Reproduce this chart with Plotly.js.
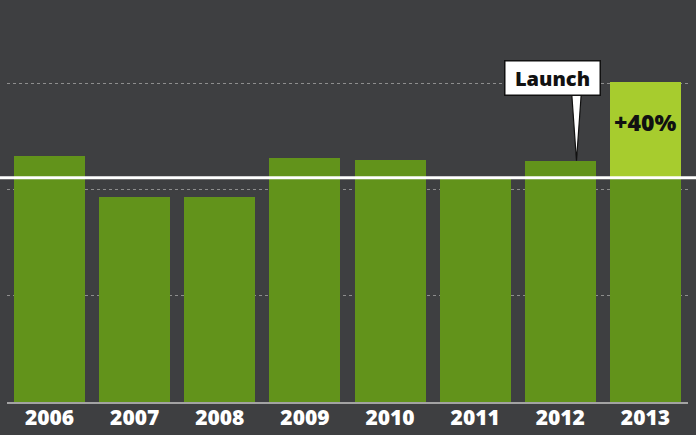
<!DOCTYPE html>
<html>
<head>
<meta charset="utf-8">
<script src="https://cdn.plot.ly/plotly-3.0.1.min.js"></script>
<style>
  html, body { margin: 0; padding: 0; background: #3e3f41; }
  #chart { width: 696px; height: 435px; }
</style>
</head>
<body>
<div id="chart"></div>
<script>
// Data
const years = ['2006', '2007', '2008', '2009', '2010', '2011', '2012', '2013'];
const values = [2.31, 1.93, 1.93, 2.30, 2.28, 2.11, 2.27, 3.01];
const referenceYear = '2011';   // white reference line level
const launchYear = '2012';
const highlightYear = '2013';
const launchLabel = 'Launch';
const growthLabel = '+40%';

const refLevel = values[years.indexOf(referenceYear)];
const hiIdx = years.indexOf(highlightYear);
const launchIdx = years.indexOf(launchYear);

const darkPart = values.map((v, i) => i === hiIdx ? Math.min(v, refLevel) : v);
const lightPart = values.map((v, i) => i === hiIdx ? Math.max(v - refLevel, 0) : 0);

const FONT = '"Open Sans", "DejaVu Sans", sans-serif';

const traces = [
  { type: 'bar', x: years, y: darkPart, marker: { color: '#62931b', line: { width: 0 } }, hoverinfo: 'skip' },
  { type: 'bar', x: years, y: lightPart, marker: { color: '#a7cc2e', line: { width: 0 } }, hoverinfo: 'skip' }
];

const boxTop = 3.045;     // y of callout box centre
const boxBottom = 2.89;
const tailX = launchIdx + 0.19;

const layout = {
  width: 696, height: 435,
  paper_bgcolor: '#3e3f41', plot_bgcolor: '#3e3f41',
  margin: { l: 7, r: 8, t: 20, b: 33 },
  barmode: 'stack', bargap: 0.166,
  showlegend: false,
  xaxis: {
    type: 'category', showgrid: false, zeroline: false,
    showline: true, linecolor: '#a3a3a3', linewidth: 2,
    ticks: '', ticklabelstandoff: -4,
    tickfont: { family: FONT, size: 21, color: '#ffffff', weight: 800 },
    fixedrange: true
  },
  yaxis: {
    range: [0, 3.594], dtick: 1, showticklabels: false, zeroline: false,
    showgrid: true, gridcolor: '#8e8e8e', griddash: 'dot', gridwidth: 1,
    fixedrange: true
  },
  shapes: [
    { type: 'line', xref: 'paper', yref: 'y', x0: -0.02, x1: 1.02, y0: refLevel, y1: refLevel,
      line: { color: '#ffffff', width: 3 }, layer: 'above' },
    { type: 'path', xref: 'x', yref: 'y',
      path: `M ${tailX - 0.055},${boxBottom} L ${tailX + 0.055},${boxBottom} L ${tailX},${values[launchIdx]} Z`,
      fillcolor: '#ffffff', line: { color: '#111111', width: 1.2 }, layer: 'above' }
  ],
  annotations: [
    { xref: 'x', yref: 'y', x: launchIdx - 0.09, y: boxTop, text: launchLabel, showarrow: false,
      bgcolor: '#ffffff', bordercolor: '#111111', borderwidth: 1.5, borderpad: 3, width: 88,
      font: { family: FONT, size: 20, color: '#111111', weight: 800 } },
    { xref: 'x', yref: 'y', x: hiIdx, y: (values[hiIdx] + refLevel) / 2 + 0.07, text: growthLabel, showarrow: false,
      font: { family: FONT, size: 23, color: '#111111', weight: 800 } }
  ]
};

Plotly.newPlot('chart', traces, layout, { displayModeBar: false, staticPlot: true });
</script>
</body>
</html>
